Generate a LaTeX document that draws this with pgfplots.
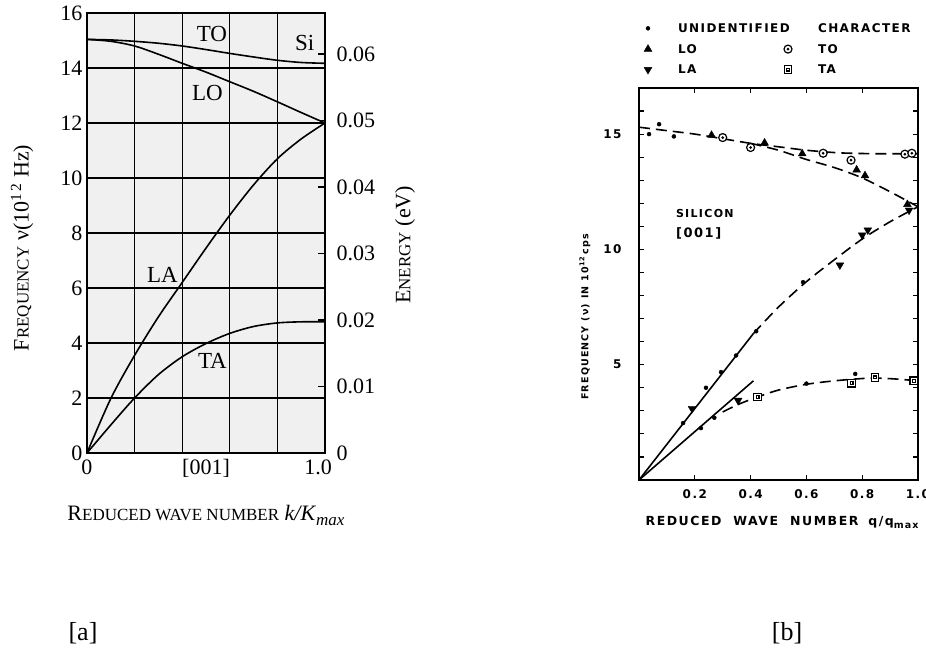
\documentclass[border=0pt]{standalone}
\usepackage{fontspec}
\setmainfont{Liberation Serif}
\newfontfamily\bsans[LetterSpace=12]{DejaVu Sans}
\usepackage{pgfplots}
\pgfplotsset{compat=1.18}
\newcommand{\fs}[1]{\fontsize{#1}{#1}\selectfont}

\pgfdeclareplotmark{circdot}{%
  \pgfpathcircle{\pgfpointorigin}{\pgfplotmarksize}%
  \pgfusepathqfillstroke
  \begin{pgfscope}%
  \pgfsetfillcolor{black}%
  \pgfpathcircle{\pgfpointorigin}{0.38\pgfplotmarksize}%
  \pgfusepathqfill
  \end{pgfscope}}
\pgfdeclareplotmark{sqdot}{%
  \pgfpathrectangle{\pgfpoint{-\pgfplotmarksize}{-\pgfplotmarksize}}{\pgfpoint{2\pgfplotmarksize}{2\pgfplotmarksize}}%
  \pgfusepathqfillstroke
  \pgfpathrectangle{\pgfpoint{-0.35\pgfplotmarksize}{-0.35\pgfplotmarksize}}{\pgfpoint{0.7\pgfplotmarksize}{0.7\pgfplotmarksize}}%
  \pgfusepathqstroke}
\pgfplotsset{myleg/.style={legend image code/.code={\path[draw=none,fill=none] (0pt,-3pt) rectangle (36pt,3pt); \draw[##1] plot coordinates {(9pt,0pt)};}}}

\begin{document}
\begin{tikzpicture}
\path[use as bounding box] (0,0) rectangle (926pt,660pt);

% ---------------- panel a ----------------
\begin{axis}[
  at={(87pt,207pt)}, anchor=south west, width=238pt, height=440pt, scale only axis,
  clip mode=individual,
  xmin=0, xmax=1, ymin=0, ymax=16,
  axis background/.style={fill=gray!12},
  xtick={0,0.2,0.4,0.6,0.8,1}, xticklabels={0,,,,,{\makebox[0pt]{\hspace{-14pt}1.0}}},
  extra x ticks={0.5}, extra x tick labels={{[001]}},
  extra x tick style={grid=none, major tick length=0pt},
  ytick={0,2,4,6,8,10,12,14,16}, yticklabels={0,2,4,6,8,10,12,14,16},
  grid=major, major grid style={black, line width=1.2pt},
  major tick length=0pt,
  axis line style={line width=1.8pt},
  tick label style={font=\fs{22}},
  xticklabel style={yshift=-3pt},
  yticklabel style={xshift=-1pt},
]
\addplot[black, line width=1.6pt, smooth] coordinates {
 (0,15.04) (0.1,15.02) (0.2,14.97) (0.3,14.9) (0.4,14.8) (0.5,14.67)
 (0.6,14.53) (0.7,14.4) (0.8,14.28) (0.9,14.2) (1.0,14.17)};
\addplot[black, line width=1.6pt, smooth] coordinates {
 (0,15.04) (0.1,14.97) (0.2,14.8) (0.3,14.5) (0.4,14.17) (0.5,13.85)
 (0.6,13.5) (0.7,13.15) (0.8,12.77) (0.9,12.38) (1.0,12.0)};
\addplot[black, line width=1.6pt, smooth] coordinates {
 (0,0) (0.1,1.98) (0.2,3.55) (0.3,4.95) (0.4,6.2)
 (0.5,7.45) (0.6,8.65) (0.7,9.75) (0.8,10.7) (0.9,11.42) (1.0,12.0)};
\addplot[black, line width=1.6pt, smooth] coordinates {
 (0,0) (0.1,1.02) (0.2,2.0) (0.3,2.85) (0.4,3.5) (0.5,3.98) (0.6,4.35)
 (0.7,4.6) (0.8,4.73) (0.9,4.77) (1.0,4.77)};
\node[font=\fs{23}] at (axis cs:0.525,15.24) {TO};
\node[font=\fs{23}] at (axis cs:0.915,14.9) {Si};
\node[font=\fs{23}] at (axis cs:0.506,13.1) {LO};
\node[font=\fs{23}] at (axis cs:0.317,6.49) {LA};
\node[font=\fs{23}] at (axis cs:0.527,3.35) {TA};
\node[rotate=90, font=\fs{22}] at (axis description cs:-0.273,0.466)
  {F{\fs{17}REQUENCY} ν(10\textsuperscript{1\,2} Hz)};
\node[font=\fs{22}] at (axis description cs:0.5,-0.141)
  {R{\fs{17}EDUCED WAVE NUMBER} \textit{k/K}\raisebox{-5pt}{\fs{17}\itshape max}};
\node[rotate=90, font=\fs{22}] at (axis description cs:1.336,0.473)
  {E{\fs{17}NERGY} (eV)};
\end{axis}

% energy axis of panel a
\begin{axis}[
  at={(87pt,207pt)}, anchor=south west, width=238pt, height=440pt, scale only axis,
  xmin=0, xmax=1, ymin=0, ymax=16,
  axis x line=none, axis y line*=right,
  ytick={0,2.418,4.836,7.254,9.672,12.09,14.508},
  yticklabels={0,0.01,0.02,0.03,0.04,0.05,0.06},
  tick align=inside, major tick length=7pt,
  tick style={black, line width=1.2pt},
  axis line style={line width=1.8pt},
  tick label style={font=\fs{22}},
  yticklabel style={xshift=8pt},
]
\addplot[draw=none] coordinates {(0,0)};
\end{axis}

% ---------------- panel b ----------------
\begin{axis}[
  at={(639pt,180pt)}, anchor=south west, width=279pt, height=392pt, scale only axis,
  clip mode=individual,
  xmin=0, xmax=1, ymin=0, ymax=17,
  xtick={0.2,0.4,0.6,0.8,1}, xticklabels={0.2,0.4,0.6,0.8,1.0},
  ytick={5,10,15}, yticklabels={5,10,15},
  minor ytick={1,2,3,4,6,7,8,9,11,12,13,14,16},
  tick align=inside, major tick length=5pt, minor tick length=5pt,
  tick style={black, line width=1.2pt},
  axis line style={line width=1.8pt},
  tick label style={font=\bsans\bfseries\fs{12}},
  xticklabel style={yshift=-6pt},
  yticklabel style={xshift=-14pt},
  legend columns=2, legend cell align=left,
  legend style={draw=none, fill=none, inner sep=0pt, outer sep=0pt,
    at={(axis description cs:0,1.163)}, anchor=north west,
    font=\bsans\bfseries\fs{12},
    nodes={inner xsep=3pt, inner ysep=0pt, text height=8.5pt, text depth=0pt},
    row sep=12pt},
]
% fitted curves
\addplot[forget plot, black, line width=1.6pt, dash pattern=on 11pt off 6pt, smooth] coordinates {
 (0,15.3) (0.1,15.15) (0.2,15.0) (0.3,14.8) (0.4,14.6) (0.5,14.45) (0.6,14.3)
 (0.7,14.2) (0.76,14.17) (0.85,14.15) (1.0,14.15)};
\addplot[forget plot, black, line width=1.6pt, dash pattern=on 11pt off 6pt, smooth] coordinates {
 (0.4,14.6) (0.5,14.3) (0.6,13.9) (0.7,13.55) (0.8,13.1) (0.9,12.5) (1.0,11.85)};
\addplot[forget plot, black, line width=1.6pt] coordinates {(0,0) (0.41,6.35)};
\addplot[forget plot, black, line width=1.6pt, dash pattern=on 11pt off 6pt, smooth] coordinates {
 (0.41,6.35) (0.5,7.5) (0.6,8.6) (0.7,9.55) (0.8,10.45) (0.9,11.2) (1.0,11.85)};
\addplot[forget plot, black, line width=1.6pt] coordinates {(0,0) (0.41,4.3)};
\addplot[forget plot, black, line width=1.6pt, dash pattern=on 11pt off 6pt, smooth] coordinates {
 (0.3,2.95) (0.36,3.3) (0.43,3.62) (0.5,3.9) (0.6,4.15) (0.7,4.3) (0.8,4.4)
 (0.85,4.42) (0.92,4.38) (1.0,4.3)};
% data points
\addplot[only marks, black, mark=*, mark size=2pt, myleg] coordinates {
 (0.036,15.0) (0.072,15.43) (0.125,14.9) (0.158,2.47) (0.222,2.25) (0.27,2.7)
 (0.24,4.0) (0.294,4.68) (0.348,5.4) (0.42,6.45) (0.588,8.58) (0.60,4.18) (0.775,4.6)};
\addlegendentry{\makebox[98pt][l]{UNIDENTIFIED}}
\addlegendimage{legend image code/.code={}}
\addlegendentry{CHARACTER}
\addplot[only marks, black, mark=triangle*, mark size=4.5pt, myleg] coordinates {
 (0.26,14.95) (0.45,14.62) (0.585,14.15) (0.78,13.45) (0.81,13.2) (0.962,11.95)};
\addlegendentry{\makebox[98pt][l]{LO}}
\addplot[only marks, black, mark=circdot, mark size=4pt, line width=1.2pt,
  mark options={fill=white, draw=black}, myleg] coordinates {
 (0.30,14.85) (0.40,14.42) (0.66,14.17) (0.76,13.87) (0.953,14.13) (0.978,14.17)};
\addlegendentry{TO}
\addplot[only marks, black, mark=triangle*, mark size=4.5pt, mark options={rotate=180}, myleg] coordinates {
 (0.19,3.1) (0.355,3.45) (0.72,9.32) (0.80,10.62) (0.82,10.84) (0.968,11.7)};
\addlegendentry{\makebox[98pt][l]{LA}}
\addplot[only marks, black, mark=sqdot, mark size=3.8pt, line width=1.2pt,
  mark options={fill=white, draw=black}, myleg] coordinates {
 (0.425,3.6) (0.762,4.2) (0.846,4.45) (0.985,4.3)};
\addlegendentry{TA}
\node[anchor=west, font=\bsans\bfseries\fs{11}] at (axis cs:0.12,11.57) {SILICON};
\node[anchor=west, font=\bsans\bfseries\fs{13}] at (axis cs:0.12,10.7) {[001]};
\node[rotate=90, font=\bsans\bfseries\fs{9.5}] at (axis description cs:-0.194,0.416)
  {FREQUENCY\hspace{5pt}(ν)\hspace{5pt}IN\hspace{5pt}10\textsuperscript{12}\,cps};
\node[font=\bsans\bfseries\fs{12.5}] at (axis description cs:0.513,-0.107)
  {REDUCED\hspace{12pt}WAVE\hspace{12pt}NUMBER\hspace{10pt}q/q\raisebox{-3pt}{\fs{9.5}max}};
\end{axis}

\node[font=\fs{26}] at (83pt,27pt) {[a]};
\node[font=\fs{26}] at (787pt,27pt) {[b]};
\end{tikzpicture}
\end{document}
